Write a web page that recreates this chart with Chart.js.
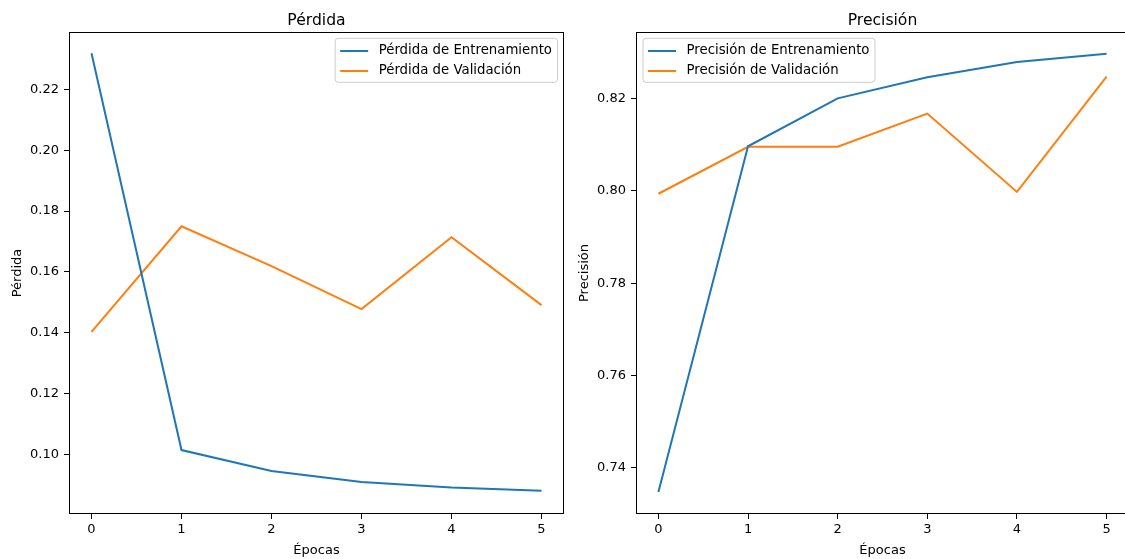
<!DOCTYPE html>
<html>
<head>
<meta charset="utf-8">
<script src="https://cdn.jsdelivr.net/npm/chart.js@4"></script>
<style>
html, body { margin:0; padding:0; background:#fff; overflow:hidden; width:1125px; height:559px; }
canvas { position:absolute; top:0; }
#loss { left:0; }
#acc { left:570px; }
</style>
</head>
<body>
<canvas id="loss" width="570" height="559"></canvas>
<canvas id="acc" width="565" height="559"></canvas>
<script>
// values
let epochs = [0, 1, 2, 3, 4, 5]
let train_loss = [0.2318, 0.1015, 0.0946, 0.0910, 0.0892, 0.0881]
let val_loss = [0.1403, 0.1750, 0.1619, 0.1478, 0.1714, 0.1491]
let train_acc = [0.7347, 0.8097, 0.8201, 0.8247, 0.8280, 0.8298]
let val_acc = [0.7994, 0.8096, 0.8096, 0.8168, 0.7998, 0.8248]
let loss_ticks = [0.10, 0.12, 0.14, 0.16, 0.18, 0.20, 0.22]
let acc_ticks = [0.74, 0.76, 0.78, 0.80, 0.82]

const BLUE = "#1f77b4"
const ORANGE = "#ff7f0e"
const FONT = '"DejaVu Sans", sans-serif'
Chart.defaults.font.family = FONT
Chart.defaults.color = "#000"

function points(values){
    return values.map((v, i) => ({x: epochs[i], y: v}))
}

// frame, title and a matplotlib-like legend box
const mplBits = {
    id: "mplBits",
    afterDraw(chart, args, opts){
        const a = chart.chartArea
        const ctx = chart.ctx
        ctx.save()
        ctx.strokeStyle = "#000"
        ctx.lineWidth = 1
        ctx.strokeRect(a.left + 0.5, a.top + 0.5, a.right - a.left - 1, a.bottom - a.top - 1)

        ctx.fillStyle = "#000"
        ctx.font = "15.6px " + FONT
        ctx.textAlign = "center"
        ctx.textBaseline = "alphabetic"
        ctx.fillText(opts.title, (a.left + a.right) / 2, a.top - 7.5)

        ctx.font = "13.3px " + FONT
        let sets = chart.data.datasets
        let tw = Math.max(...sets.map(d => ctx.measureText(d.label).width))
        let w = 5 + 28 + 10.5 + tw + 5.5
        let h = 44
        let x = opts.corner == "right" ? a.right - 6.5 - w : a.left + 7
        let y = a.top + 6.3
        ctx.beginPath()
        ctx.roundRect(x, y, w, h, 3)
        ctx.fillStyle = "rgba(255,255,255,0.8)"
        ctx.fill()
        ctx.strokeStyle = "#cccccc"
        ctx.stroke()
        ctx.textAlign = "left"
        ctx.textBaseline = "middle"
        sets.forEach((d, i) => {
            let cy = y + 12.7 + i * 20
            ctx.beginPath()
            ctx.moveTo(x + 5, cy)
            ctx.lineTo(x + 33, cy)
            ctx.strokeStyle = d.borderColor
            ctx.lineWidth = 2
            ctx.stroke()
            ctx.fillStyle = "#000"
            ctx.fillText(d.label, x + 43.5, cy)
        })
        ctx.restore()
    }
}

function makeScales(yMin, yMax, yTicks, yTitle, yWidth, yTitlePad){
    return {
        x: {
            type: "linear",
            min: -0.25,
            max: 5.25,
            afterBuildTicks: s => { s.ticks = epochs.map(v => ({value: v})) },
            afterFit: s => { s.height = 45 },
            ticks: {font: {size: 13}, color: "#000", padding: 3, maxRotation: 0, autoSkip: false},
            grid: {drawOnChartArea: false, tickLength: 5, tickColor: "#000", tickWidth: 1},
            border: {display: false},
            title: {display: true, text: "Épocas", font: {size: 13}, color: "#000", padding: {top: 0, bottom: 1}}
        },
        y: {
            min: yMin,
            max: yMax,
            afterBuildTicks: s => { s.ticks = yTicks.map(v => ({value: v})) },
            afterFit: s => { s.width = yWidth },
            ticks: {font: {size: 13}, color: "#000", padding: 5, callback: v => v.toFixed(2)},
            grid: {drawOnChartArea: false, tickLength: 5, tickColor: "#000", tickWidth: 1},
            border: {display: false},
            title: {display: true, text: yTitle, font: {size: 13}, color: "#000", padding: {top: yTitlePad, bottom: 0}}
        }
    }
}

new Chart(document.getElementById("loss"), {
    type: "line",
    data: {
        datasets: [
            {label: "Pérdida de Entrenamiento", data: points(train_loss), borderColor: BLUE, backgroundColor: BLUE, borderWidth: 2, pointRadius: 0, tension: 0},
            {label: "Pérdida de Validación", data: points(val_loss), borderColor: ORANGE, backgroundColor: ORANGE, borderWidth: 2, pointRadius: 0, tension: 0}
        ]
    },
    options: {
        responsive: false,
        animation: false,
        layout: {padding: {left: 0, top: 32, right: 6, bottom: 0}},
        scales: makeScales(0.0805, 0.2388, loss_ticks, "Pérdida", 69, 10),
        plugins: {
            legend: {display: false},
            tooltip: {enabled: false},
            mplBits: {title: "Pérdida", corner: "right"}
        }
    },
    plugins: [mplBits]
})

new Chart(document.getElementById("acc"), {
    type: "line",
    data: {
        datasets: [
            {label: "Precisión de Entrenamiento", data: points(train_acc), borderColor: BLUE, backgroundColor: BLUE, borderWidth: 2, pointRadius: 0, tension: 0},
            {label: "Precisión de Validación", data: points(val_acc), borderColor: ORANGE, backgroundColor: ORANGE, borderWidth: 2, pointRadius: 0, tension: 0}
        ]
    },
    options: {
        responsive: false,
        animation: false,
        layout: {padding: {left: 0, top: 32, right: 6, bottom: 0}},
        scales: makeScales(0.7299, 0.8345, acc_ticks, "Precisión", 66, 6.5),
        plugins: {
            legend: {display: false},
            tooltip: {enabled: false},
            mplBits: {title: "Precisión", corner: "left"}
        }
    },
    plugins: [mplBits]
})
</script>
</body>
</html>
